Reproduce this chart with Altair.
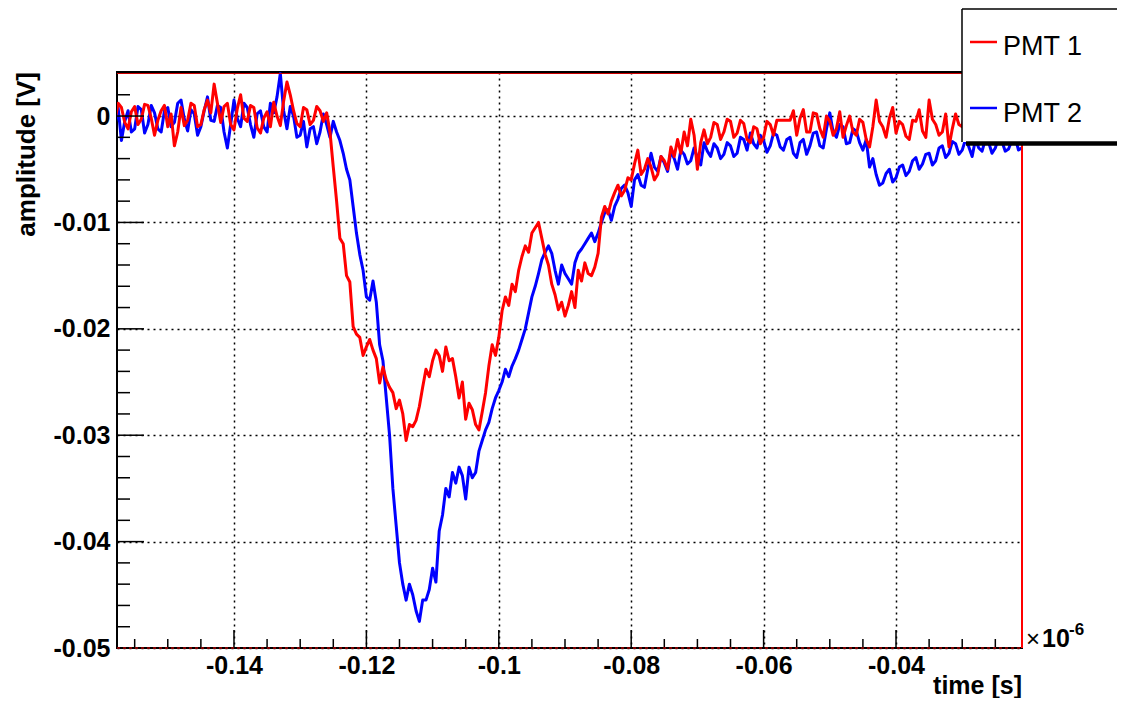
import altair as alt
import pandas as pd

# sampling grid of the waveforms (units of 1e-6 s)
t_start = -0.158
t_step = 0.0005

# amplitudes in mV (one value per sample)
pmt1_mv = [
    -0.5, 1.2, 0.8, -0.6, -1.2, 0.4, 0.9, -0.8, -0.3, 1.1,
    1.0, -0.2, -1.8, -0.4, 0.5, 1.0, -1.0, 0.2, -2.8, -1.5,
    0.8, -0.9, -0.4, 1.2, 1.0, -1.0, -0.8, 0.6, 1.5, 0.3,
    3.0, 1.2, -0.6, 0.9, 1.2, -0.8, -1.3, 0.7, 2.0, -0.2,
    -0.5, 1.0, 0.8, -1.1, -1.6, -0.2, 0.4, -1.0, 1.3, 0.0,
    -0.9, 1.4, 3.2, 2.0, 0.5, -0.7, -1.0, 0.8, 0.6, -0.8,
    -0.4, 0.9, 0.5, -0.5, 0.3, -1.5, -4.8, -8.0, -11.5, -12.0,
    -15.0, -15.6, -19.8, -20.5, -20.8, -22.5, -21.7, -21.0, -22.0, -22.8,
    -25.1, -23.6, -24.8, -25.5, -26.0, -27.5, -26.7, -28.0, -30.5, -29.0,
    -29.2, -28.6, -27.3, -25.5, -23.8, -24.5, -23.0, -22.0, -22.5, -24.0,
    -21.7, -23.0, -22.8, -24.5, -26.5, -25.0, -28.5, -27.0, -27.6, -29.0,
    -29.5, -27.8, -26.0, -23.5, -21.5, -22.5, -20.8, -18.3, -17.0, -17.8,
    -15.8, -16.5, -14.5, -13.2, -12.2, -12.8, -11.0, -10.5, -10.0, -11.5,
    -13.0, -14.0, -15.8, -16.8, -18.2, -17.5, -18.8, -17.8, -16.5, -18.0,
    -14.5, -15.5, -13.8, -14.8, -15.0, -14.2, -12.9, -9.5, -8.5, -9.2,
    -8.0, -7.2, -6.5, -7.5, -7.0, -5.8, -6.0, -4.5, -3.2, -5.5,
    -5.0, -4.0, -4.8, -6.0, -5.5, -3.8, -4.2, -5.0, -2.9, -3.8,
    -2.2, -3.5, -1.5, -2.8, -0.3, -1.8, -5.0, -2.5, -1.3, -2.6,
    -2.0, -0.6, -0.8, -2.2, -1.5, -0.3, -0.5, -2.0, -1.6, -0.4,
    -0.7, -2.2, -2.5, -1.0, -1.2, -2.6, -2.0, -0.5, -0.8, -1.8,
    -0.4, -0.4, -0.4, -0.4, -0.4, 0.5, -1.8, -0.2, 0.6, -1.5,
    -1.5, 0.3, 0.2, -1.2, -2.0, 0.0, -0.5, -1.8, -1.2, 0.4,
    -2.0, -0.9, 0.0, -1.5, -1.8, -0.3, -0.6, -2.2, -2.9, -1.0,
    1.5, -0.5, -1.0, -2.0, -0.2, 0.8, -1.6, -0.5, -0.8, -1.9,
    -2.2, -0.4, -0.5, 0.6, -1.4, -2.0, 1.5, -0.3, -0.8, -1.8,
    -1.5, 0.2, -2.9, -1.2, 0.2, -0.8, -1.0, 0.8, -0.5, -1.6,
    -2.0, -0.4, 0.3, -1.5, -1.2, -0.2, -0.6, -2.0, -1.8, -0.5,
    -0.3, -1.9, -1.5, -0.4, -0.8,
]
pmt2_mv = [
    -1.0, 0.8, -2.3, -0.5, 0.5, -1.5, -1.2, 0.9, 0.6, -1.6,
    -0.8, 1.0, 0.3, -1.2, -1.5, 0.5, 0.8, -1.0, -0.6, 1.2,
    1.5, -0.3, -1.4, 0.6, 0.2, -1.8, -1.0, 0.5, 1.8, -0.4,
    -0.5, 1.0, 0.8, -1.5, -3.0, -0.8, 1.5, -0.2, -1.0, 1.2,
    0.8, -0.8, -2.0, 0.2, 0.5, -1.0, -1.5, 1.2, 0.3, 1.8,
    4.0, 0.5, -1.2, 0.9, 0.0, -2.0, -1.8, -0.5, -2.9, -1.2,
    -1.0, -2.6, -1.5, 0.2, -0.8, -2.0, -0.5, -1.5, -2.3, -3.5,
    -5.0, -6.0, -8.5, -11.0, -13.0, -14.5, -17.0, -17.3, -15.5, -17.5,
    -21.5, -23.0, -26.5, -30.0, -35.0, -38.5, -42.0, -44.0, -45.5, -44.0,
    -45.0, -46.5, -47.5, -45.5, -45.5, -44.5, -42.5, -43.8, -39.0, -37.5,
    -35.0, -35.8, -33.5, -34.5, -33.0, -33.8, -36.0, -33.0, -34.0, -33.5,
    -31.5, -30.5, -29.5, -28.8, -27.5, -26.5, -25.8, -25.0, -23.8, -24.5,
    -23.5, -22.8, -22.0, -21.0, -20.0, -18.5, -17.0, -16.0, -14.8, -13.5,
    -12.8, -12.2, -12.9, -14.5, -15.8, -14.0, -14.8, -15.3, -15.8, -13.8,
    -12.9, -12.5, -12.0, -11.5, -11.0, -11.8, -11.0, -10.0, -9.1, -8.8,
    -9.8, -8.5, -7.8, -6.8, -6.5, -7.2, -8.5, -6.0, -5.5, -6.5,
    -6.7, -5.0, -3.5, -4.8, -5.2, -3.8, -4.4, -5.2, -3.3, -4.0,
    -5.0, -3.2, -3.6, -4.5, -4.2, -3.0, -3.9, -4.6, -2.5, -3.3,
    -3.8, -2.6, -3.0, -4.0, -3.6, -2.5, -2.8, -3.8, -3.5, -2.0,
    -2.2, -3.2, -1.6, -2.6, -3.0, -1.8, -2.3, -3.4, -2.8, -1.6,
    -1.8, -2.9, -3.2, -2.2, -2.0, -3.5, -3.9, -2.5, -2.2, -3.6,
    -2.8, -1.6, -1.5, -2.8, -3.0, -1.2, 0.3, -1.5, -2.0, -0.8,
    -1.0, -2.6, -2.5, -1.2, -1.4, -2.5, -3.2, -2.2, -4.8, -4.0,
    -5.5, -6.5, -6.3, -5.4, -5.0, -6.2, -5.8, -4.8, -4.6, -5.6,
    -5.2, -4.2, -3.9, -5.0, -4.5, -3.6, -3.5, -4.6, -4.2, -3.0,
    -2.8, -3.9, -3.5, -2.4, -2.6, -3.6, -3.2, -2.2, -2.9, -3.8,
    -2.2, -3.0, -3.3, -2.2, -2.5, -3.5, -3.0, -2.0, -2.4, -3.3,
    -3.1, -2.3, -2.0, -3.2, -3.0,
]

series_names = ["PMT 1", "PMT 2"]
series_colors = ["#ff0000", "#0000ff"]

x_major = [-0.14, -0.12, -0.1, -0.08, -0.06, -0.04]
x_minor = [-0.155, -0.15, -0.145, -0.135, -0.13, -0.125, -0.115, -0.11, -0.105,
           -0.095, -0.09, -0.085, -0.075, -0.07, -0.065, -0.055, -0.05, -0.045,
           -0.035, -0.03, -0.025]
y_major = [0, -0.01, -0.02, -0.03, -0.04, -0.05]
y_minor = [0.002, -0.002, -0.004, -0.006, -0.008, -0.012, -0.014, -0.016, -0.018,
           -0.022, -0.024, -0.026, -0.028, -0.032, -0.034, -0.036, -0.038,
           -0.042, -0.044, -0.046, -0.048]

x_domain = [-0.15767, -0.02097]
y_domain = [-0.05, 0.00414]

rows = []
for name, vals in zip(series_names, [pmt1_mv, pmt2_mv]):
    for i, v in enumerate(vals):
        rows.append({"t": round(t_start + i * t_step, 5), "amp": v / 1000.0, "series": name})
df = pd.DataFrame(rows)

W, H = 905, 576
FONT = "Liberation Sans"

xs = alt.Scale(domain=x_domain, nice=False, zero=False)
ys = alt.Scale(domain=y_domain, nice=False, zero=False)

x_axis = alt.Axis(values=x_major, labelExpr="'' + datum.value", title=None,
                  labelPadding=5, labelFlush=False, labelOverlap=False, labelBound=False)
y_axis = alt.Axis(values=y_major, labelExpr="'' + datum.value", title=None,
                  labelPadding=7, labelFlush=False, labelOverlap=False, labelBound=False)

base = alt.Chart(df)

line_blue = base.transform_filter(alt.datum.series == "PMT 2").mark_line(
    strokeWidth=3, clip=True, color=series_colors[1], strokeJoin="round"
).encode(
    x=alt.X("t:Q", scale=xs, axis=x_axis),
    y=alt.Y("amp:Q", scale=ys, axis=y_axis),
)
line_red = base.transform_filter(alt.datum.series == "PMT 1").mark_line(
    strokeWidth=3, clip=True, color=series_colors[0], strokeJoin="round"
).encode(
    x=alt.X("t:Q", scale=xs),
    y=alt.Y("amp:Q", scale=ys),
)

one = pd.DataFrame({"k": [0]})

# inward ticks
xt_major = alt.Chart(pd.DataFrame({"t": x_major})).mark_rule(color="black", strokeWidth=1.5).encode(
    x=alt.X("t:Q", scale=xs), y=alt.value(H), y2=alt.value(H - 18))
xt_minor = alt.Chart(pd.DataFrame({"t": x_minor})).mark_rule(color="black", strokeWidth=1.5).encode(
    x=alt.X("t:Q", scale=xs), y=alt.value(H), y2=alt.value(H - 9))
yt_major = alt.Chart(pd.DataFrame({"a": y_major})).mark_rule(color="black", strokeWidth=1.5).encode(
    y=alt.Y("a:Q", scale=ys), x=alt.value(0), x2=alt.value(27))
yt_minor = alt.Chart(pd.DataFrame({"a": y_minor})).mark_rule(color="black", strokeWidth=1.5).encode(
    y=alt.Y("a:Q", scale=ys), x=alt.value(0), x2=alt.value(13))

# frame overlays (red edges)
red_right = alt.Chart(one).mark_rule(color="#ff0000", strokeWidth=2).encode(
    x=alt.value(W), y=alt.value(0), y2=alt.value(H))
red_top = alt.Chart(one).mark_rule(color="#cc0000", strokeWidth=1).encode(
    x=alt.value(0), x2=alt.value(W), y=alt.value(1.5))
red_bottom = alt.Chart(one).mark_rule(color="#ff0000", strokeWidth=1, strokeDash=[3, 3]).encode(
    x=alt.value(0), x2=alt.value(W), y=alt.value(H))

# axis titles and exponent
x_title = alt.Chart(one).mark_text(text="time [s]", font=FONT, fontWeight="bold", fontSize=25,
                                   align="right", baseline="alphabetic").encode(
    x=alt.value(W), y=alt.value(622))
y_title = alt.Chart(one).mark_text(text="amplitude [V]", font=FONT, fontWeight="bold", fontSize=26,
                                   align="right", baseline="alphabetic", angle=270).encode(
    x=alt.value(-82), y=alt.value(0))
exp_times = alt.Chart(one).mark_text(text="×", font=FONT, fontSize=24, align="left",
                                     baseline="alphabetic").encode(x=alt.value(909), y=alt.value(575))
exp_ten = alt.Chart(one).mark_text(text="10", font=FONT, fontWeight="bold", fontSize=25, align="left",
                                   baseline="alphabetic").encode(x=alt.value(925), y=alt.value(575))
exp_pow = alt.Chart(one).mark_text(text="-6", font=FONT, fontWeight="bold", fontSize=17, align="left",
                                   baseline="alphabetic").encode(x=alt.value(952), y=alt.value(563))

# legend box (runs off the right edge, like the original)
leg_fill = alt.Chart(one).mark_rect(fill="white").encode(
    x=alt.value(845), x2=alt.value(1040), y=alt.value(-63), y2=alt.value(70))
leg_left = alt.Chart(one).mark_rule(color="black", strokeWidth=1.5).encode(
    x=alt.value(845), y=alt.value(-63), y2=alt.value(70))
leg_top = alt.Chart(one).mark_rule(color="black", strokeWidth=1.5).encode(
    x=alt.value(845), x2=alt.value(1040), y=alt.value(-63))
leg_bottom = alt.Chart(one).mark_rule(color="black", strokeWidth=4.5).encode(
    x=alt.value(849), x2=alt.value(1040), y=alt.value(71.5))
leg_l1 = alt.Chart(one).mark_rule(color=series_colors[0], strokeWidth=2.5).encode(
    x=alt.value(853), x2=alt.value(880), y=alt.value(-30))
leg_l2 = alt.Chart(one).mark_rule(color=series_colors[1], strokeWidth=2.5).encode(
    x=alt.value(853), x2=alt.value(880), y=alt.value(36))
leg_t1 = alt.Chart(one).mark_text(text=series_names[0], font=FONT, fontSize=27, align="left",
                                  baseline="alphabetic").encode(x=alt.value(886), y=alt.value(-17))
leg_t2 = alt.Chart(one).mark_text(text=series_names[1], font=FONT, fontSize=27, align="left",
                                  baseline="alphabetic").encode(x=alt.value(886), y=alt.value(50))

chart = alt.layer(
    line_blue, line_red,
    xt_major, xt_minor, yt_major, yt_minor,
    red_right, red_top, red_bottom,
    x_title, y_title, exp_times, exp_ten, exp_pow,
    leg_fill, leg_left, leg_top, leg_bottom, leg_l1, leg_l2, leg_t1, leg_t2,
).properties(
    width=W, height=H,
    autosize=alt.AutoSizeParams(type="none"),
    padding={"left": 109, "top": 64, "right": 95, "bottom": 50},
    background="white",
).configure_view(
    stroke="black", strokeWidth=2
).configure_axis(
    labelFont=FONT, labelFontWeight="bold", labelFontSize=25, labelColor="black",
    ticks=False, domain=False, grid=True, gridColor="black", gridDash=[2, 4],
    gridWidth=1.5, gridOpacity=1,
)

chart.save("out.html", embed_options={"renderer": "svg", "actions": False})
